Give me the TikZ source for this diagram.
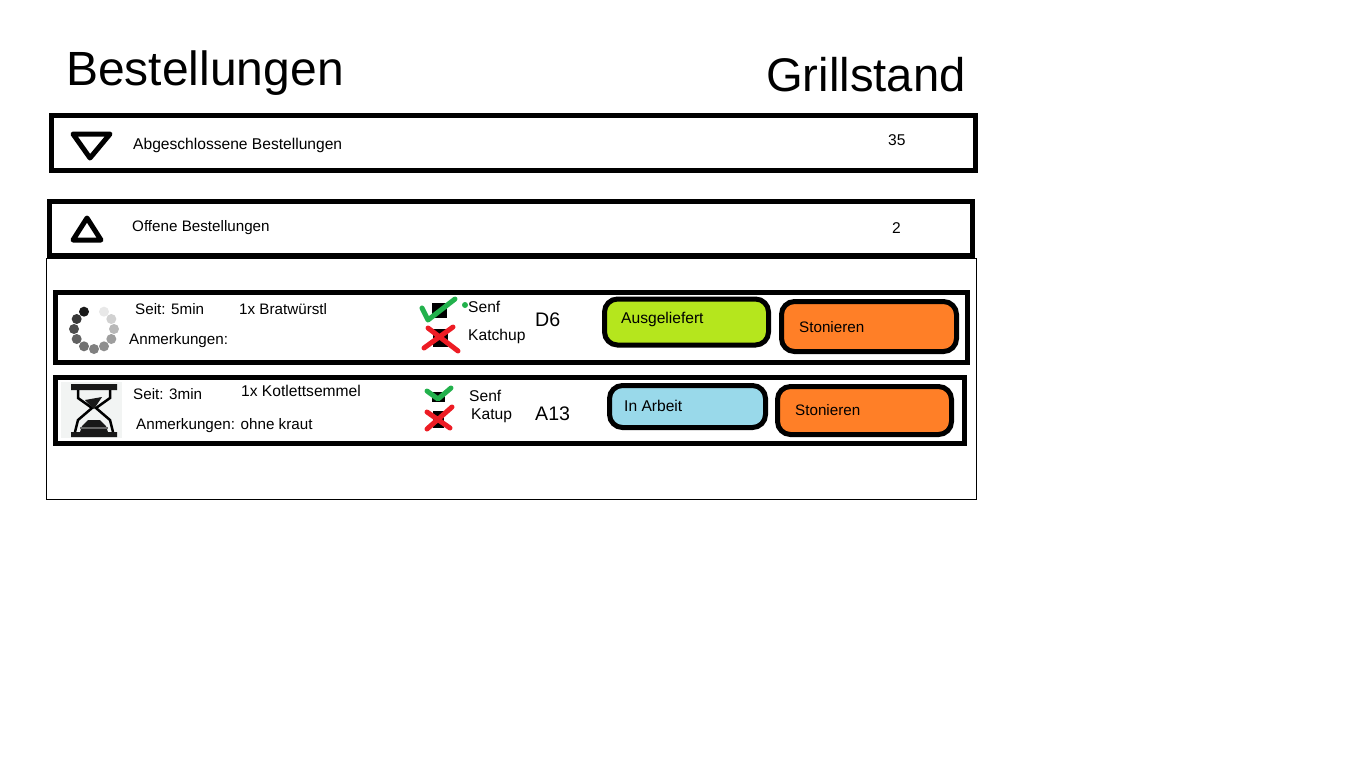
\documentclass[tikz,border=0pt]{standalone}
\usepackage{fontspec}
\setmainfont{Liberation Sans}
\definecolor{okgreen}{HTML}{22B14C}
\definecolor{nored}{HTML}{ED1C24}
\definecolor{btnorange}{HTML}{FF7F27}
\definecolor{btnlime}{HTML}{B5E61D}
\definecolor{btnblue}{HTML}{99D9EA}
\definecolor{glassbg}{HTML}{F2F4F3}
\tikzset{
	bar/.style={draw, line width=5pt, inner sep=0pt, anchor=north west},
	button/.style={bar, rounded corners=13pt},
	txt/.style={anchor=base west, inner sep=0pt, font=\fontsize{15.6}{16}\selectfont},
	rowtxt/.style={txt, font=\fontsize{15.2}{16}\selectfont},
	big/.style={txt, font=\fontsize{48}{50}\selectfont},
	seat/.style={txt, font=\fontsize{19.6}{20}\selectfont},
	tick/.style={okgreen, line width=5pt, line cap=round, line join=round},
	cross/.style={nored, line width=5pt, line cap=round},
	arrowmark/.style={line width=5pt, line join=round},
}
\begin{document}
\begin{tikzpicture}[x=1pt, y=-1pt]
	\useasboundingbox (0,0) rectangle (1362,761);
	\node[big] (titleorders) at (66,85) {Bestellungen};
	\node[big, font=\fontsize{47.2}{50}\selectfont] (titlestand) at (766,91) {Grillstand};
	% closed orders
	\node[bar, minimum width=924pt, minimum height=55pt] (closedbar) at (49,113) {};
	\draw[arrowmark] (73,134) -- (110,134) -- (90,158) -- cycle;
	\node[txt] (closedtext) at (133,149) {Abgeschlossene Bestellungen};
	\node[txt] (closedcount) at (888,145) {35};
	% open orders
	\draw (46.5,258) rectangle (976.5,499.5);
	\node[bar, minimum width=923pt, minimum height=54pt] (openbar) at (47,199) {};
	\draw[arrowmark] (87,218) -- (73,240) -- (101,240) -- cycle;
	\node[rowtxt] (opentext) at (132,231) {Offene Bestellungen};
	\node[txt] (opencount) at (892,233) {2};
	% first row
	\node[bar, minimum width=912pt, minimum height=70pt] (rowone) at (53,290) {};
	\foreach \ang/\shade in {120/90,150/78,180/70,210/62,240/56,270/50,300/44,330/38,0/28,30/18,60/9}
		\fill[black!\shade] (94,329) ++({\ang}:20 and -20) circle (5pt);
	\node[rowtxt] (seitone) at (135,314) {Seit: 5min};
	\node[rowtxt] (itemone) at (239,314) {1x Bratwürstl};
	\node[rowtxt] (noteone) at (129,344) {Anmerkungen:};
	\fill (432,303) rectangle (447,318);
	\draw[tick] (422,308) -- (428,320) -- (455,299);
	\fill[okgreen] (465,305) circle (3pt);
	\fill (433,329) rectangle (448,347);
	\draw[cross] (424,348) -- (453,327) (428,328) -- (458,351);
	\node[txt] (senfone) at (468,312) {Senf};
	\node[txt] (sauceone) at (468,340) {Katchup};
	\node[seat] (seatone) at (535,326) {D6};
	\node[button, fill=btnlime, minimum width=164pt, minimum height=46pt] (deliver) at (602,296.5) {};
	\node[txt] (delivertext) at (621,323) {Ausgeliefert};
	\node[button, fill=btnorange, minimum width=175pt, minimum height=50pt] (cancelone) at (779,299) {};
	\node[rowtxt] (canceltextone) at (799,332) {Stonieren};
	% second row
	\node[bar, minimum width=909pt, minimum height=66pt] (rowtwo) at (53,375) {};
	\fill[glassbg] (61,382) rectangle (122,438);
	\fill[black!90] (71,384) rectangle (117,390) (71,432) rectangle (117,437);
	\draw[line width=2.5pt] (78,390) -- (78,398) -- (92,408) -- (78,420) -- (75,432) (110,390) -- (110,398) -- (96,408) -- (110,420) -- (113,432);
	\fill[black!90] (85,400) -- (102,397) -- (94,409) -- cycle;
	\fill[black!90] (80,432) -- (82,426) -- (88,420) -- (100,420) -- (106,426) -- (108,432) -- cycle;
	\fill[black!60] (80,427) rectangle (108,429);
	\node[rowtxt] (seittwo) at (133,399) {Seit: 3min};
	\node[txt] (itemtwo) at (241,396) {1x Kotlettsemmel};
	\node[rowtxt] (notetwo) at (136,429) {Anmerkungen: ohne kraut};
	\fill (432,392) rectangle (445,402);
	\draw[tick] (427,391) -- (438,399) -- (451,388);
	\fill (433,411) rectangle (444,428);
	\draw[cross] (427,429) -- (452,407) (427,412) -- (450,428);
	\node[txt] (senftwo) at (469,401) {Senf};
	\node[txt] (saucetwo) at (471,419) {Katup};
	\node[seat] (seattwo) at (535,420) {A13};
	\node[button, fill=btnblue, minimum width=156pt, minimum height=42pt] (working) at (607,383) {};
	\node[txt] (workingtext) at (624,411) {In Arbeit};
	\node[button, fill=btnorange, minimum width=174pt, minimum height=48pt] (canceltwo) at (775,384) {};
	\node[rowtxt] (canceltexttwo) at (795,415) {Stonieren};
\end{tikzpicture}
\end{document}
